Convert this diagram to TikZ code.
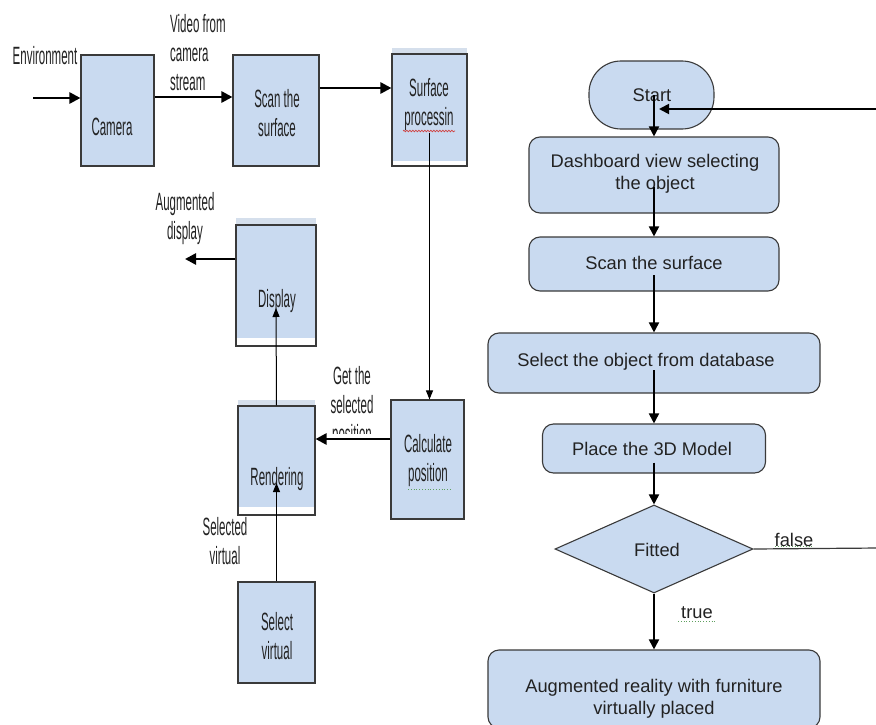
\documentclass[tikz,border=0pt]{standalone}
\usepackage{fontspec}
\setmainfont{Liberation Sans}
\newfontfamily\narfont{Liberation Sans}[FakeStretch=0.46]
\usetikzlibrary{arrows.meta,shapes.geometric,decorations.pathmorphing}
\definecolor{boxfill}{HTML}{C9DAF0}
\definecolor{boxline}{HTML}{3A3A3A}
\definecolor{bandcol}{HTML}{D5DFEC}
\definecolor{txtcol}{HTML}{222222}
\definecolor{spellred}{HTML}{D04040}
\definecolor{spellgreen}{HTML}{60A060}
\tikzset{
  lbox/.style={draw=boxline, fill=boxfill, line width=1.1pt, inner sep=0pt},
  rbox/.style={draw=boxline, fill=boxfill, line width=1.1pt, inner sep=0pt, rounded corners=11pt},
  ltxt/.style={font=\narfont\fontsize{25}{29}\selectfont, text=txtcol, align=center, inner sep=0pt},
  ltxtl/.style={font=\narfont\fontsize{25}{29}\selectfont, text=txtcol, align=left, inner sep=0pt},
  rtxt/.style={font=\fontsize{18.3}{21.5}\selectfont, text=txtcol, align=center, inner sep=0pt},
  thickarr/.style={line width=2.6pt, -{Triangle[length=11pt,width=11pt]}},
  thinarr/.style={line width=1pt, -{Triangle[length=9pt,width=7pt]}},
  rarr/.style={line width=1.8pt, -{Triangle[length=10pt,width=10pt]}},
  spellr/.style={draw=spellred, line width=0.7pt, decorate, decoration={snake, amplitude=0.8pt, segment length=3pt}},
  spellg/.style={draw=spellgreen, line width=0.8pt, dotted}
}
\begin{document}
\begin{tikzpicture}[x=1pt,y=-1pt]
\useasboundingbox (0,0) rectangle (876,725);
\fill[white] (0,0) rectangle (876,725);

% ---------- left pipeline ----------
\node[lbox, minimum width=73pt, minimum height=111pt] (cam) at (117.5,110.5) {};
\node[ltxt] (camt) at (112,127) {Camera};

\node[lbox, minimum width=86pt, minimum height=111pt] (scan) at (276,110.5) {};
\node[ltxt] (scant) at (277,113) {Scan the\\surface};

\fill[bandcol] (392,48) rectangle (467,54);
\node[lbox, minimum width=75pt, minimum height=112pt] (surf) at (429.5,110) {};
\fill[white] (393,161) rectangle (466,165.3);
\node[ltxt] (surft) at (429,105) {Surface\\processin};
\draw[spellr] (403,131) -- (455,131);

\fill[bandcol] (236,218) rectangle (316,225);
\node[lbox, minimum width=80pt, minimum height=121pt] (disp) at (276,285.5) {};
\fill[white] (236.8,338) rectangle (315.2,345.3);
\node[ltxt] (dispt) at (277,301) {Display};

\fill[bandcol] (238,400) rectangle (315,406);
\node[lbox, minimum width=77pt, minimum height=109pt] (rend) at (276.5,460.5) {};
\fill[white] (238.8,507) rectangle (314.2,514.3);
\node[ltxt] (rendt) at (277,479) {Rendering};

\node[lbox, minimum width=73pt, minimum height=119pt] (calc) at (427.5,459.5) {};
\node[ltxt] (calct) at (428,461) {Calculate\\position};
\draw[spellg] (408,489) -- (452,489);

\node[lbox, minimum width=77pt, minimum height=101pt] (selv) at (276.5,632.5) {};
\node[ltxt] (selvt) at (277,636) {Select\\virtual};

% labels
\node[ltxt] (envl) at (45,56) {Environment};
\node[ltxtl, anchor=north west] (vidl) at (170,14) {Video from\\camera\\stream};
\node[ltxt] (augl) at (185,219) {Augmented\\display};
\begin{scope}
\clip (300,350) rectangle (420,433.5);
\node[ltxt, anchor=north] (getl) at (352,366) {Get the\\selected\\position};
\end{scope}
\node[ltxt] (selvl) at (225,541) {Selected\\virtual};

% connectors
\coordinate (envs) at (33,98);
\draw[thickarr] (envs) -- (envs -| cam.west);
\draw[thickarr] ([yshift=13.5pt]cam.east) -- ([yshift=13.5pt]scan.west);
\draw[thickarr] ([yshift=22.5pt]scan.east) -- ([yshift=22pt]surf.west);
\draw[thinarr] ([yshift=-23pt]surf.center) -- (surf.center |- calc.north);
\draw[thickarr] ([yshift=20.5pt]calc.west) -- ([yshift=21.5pt]rend.east);
\coordinate (dispout) at (185,259);
\draw[thickarr] (disp.west |- dispout) -- (dispout);
\draw[thinarr] (selv.north) -- ([yshift=-22.5pt]rend.center);
\draw[thinarr] (rend.north) -- ([yshift=-22.5pt]disp.center);

% ---------- right flowchart ----------
\node[rbox, rounded corners=32pt, minimum width=125pt, minimum height=68pt] (start) at (651.5,95) {};
\node[rtxt] (startt) at (652,95) {Start};

\node[rbox, minimum width=250pt, minimum height=76pt] (dash) at (654,175) {};
\node[rtxt] (dasht) at (655,174) {Dashboard view selecting\\the object};

\node[rbox, minimum width=250pt, minimum height=54pt] (scan2) at (654,264) {};
\node[rtxt] (scan2t) at (654,263) {Scan the surface};

\node[rbox, minimum width=332pt, minimum height=60pt] (sel) at (654,363) {};
\node[rtxt] (selt) at (646,362) {Select the object from database};

\node[rbox, minimum width=223pt, minimum height=49pt] (place) at (654,448.5) {};
\node[rtxt] (placet) at (652,449) {Place the 3D Model};

\node[diamond, draw=boxline, fill=boxfill, line width=1.1pt, inner sep=0pt, aspect=2.25,
      minimum width=198pt, minimum height=88pt] (fit) at (654,549) {};
\node[rtxt] (fitt) at (657,550) {Fitted};

\node[rbox, minimum width=332pt, minimum height=78pt] (aug) at (654,689) {};
\node[rtxt] (augt) at (654,699) {Augmented reality with furniture\\virtually placed};

\node[rtxt] (falsel) at (794,540) {false};
\draw[spellg] (775,546) -- (813,546);
\node[rtxt] (truel) at (697,613) {true};
\draw[spellg] (678,621) -- (717,621);

% connectors
\draw[rarr] ([xshift=2.5pt]start.center) -- (dash.north);
\draw[rarr] ([yshift=-12pt]dash.center) -- (scan2.north);
\draw[rarr] ([yshift=-11pt]scan2.center) -- (sel.north);
\draw[rarr] ([yshift=-7pt]sel.center) -- (place.north);
\draw[rarr] ([yshift=-14pt]place.center) -- (fit.north);
\draw[rarr] (fit.south) -- (aug.north);
\coordinate (rb) at (880,548);
\coordinate (rt) at (880,109);
\coordinate (ret) at (659,109);
\draw[line width=1.2pt, draw=boxline] (fit.east) -- (rb) -- (rt);
\draw[rarr] (rt) -- (ret);
\end{tikzpicture}
\end{document}
